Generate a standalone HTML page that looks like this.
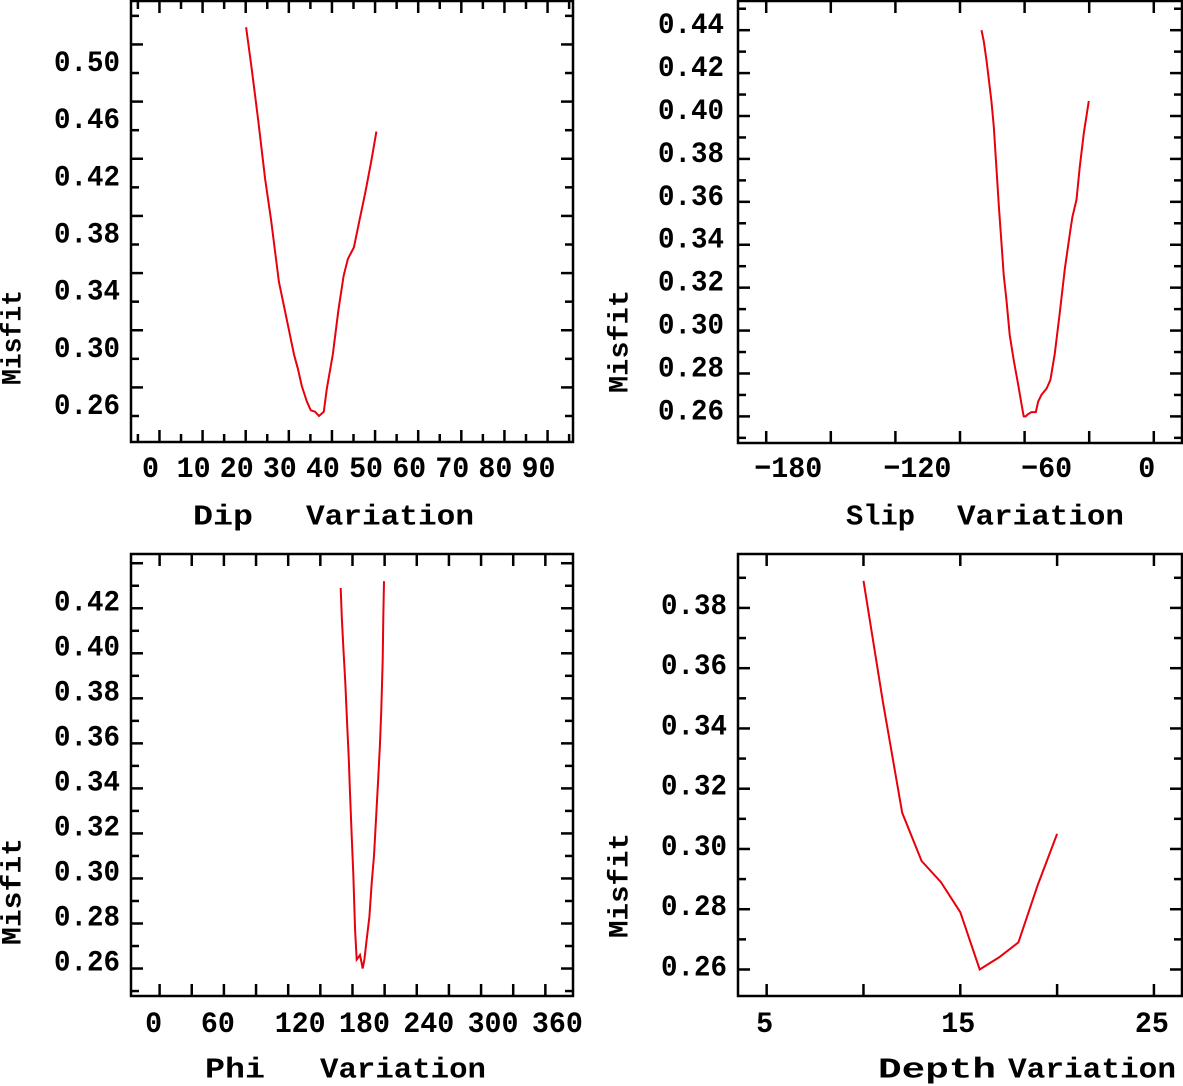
<!DOCTYPE html>
<html><head><meta charset="utf-8"><style>
html,body{margin:0;padding:0;background:#fff;}
svg{display:block;}
text{font-family:"Liberation Mono",monospace;font-weight:bold;fill:#000;}
</style></head>
<body>
<svg id="chart" width="1183" height="1086" viewBox="0 0 1183 1086" xmlns="http://www.w3.org/2000/svg"></svg>
<script>
// ---- data ----
const dipValues = [20.1,21.4,22.9,24.5,25.9,27.7,29.9,31.2,32.1,33.0,34.2,35.1,36.1,37.0,38.1,38.8,40.2,41.5,42.7,43.7,45.1,46.4,47.7,49.1,50.3];
const dipMisfit = [0.532,0.503,0.467,0.426,0.397,0.354,0.322,0.303,0.293,0.281,0.270,0.264,0.263,0.260,0.263,0.279,0.303,0.334,0.358,0.370,0.378,0.397,0.416,0.438,0.459];
const slipValues = [-80.0,-79.0,-77.7,-76.5,-75.4,-74.3,-73.1,-71.9,-70.8,-69.7,-68.4,-66.9,-65.0,-63.0,-61.5,-60.4,-59.5,-58.4,-56.8,-55.7,-54.8,-53.7,-52.2,-49.8,-48.0,-46.0,-43.7,-41.3,-39.0,-37.8,-35.9,-34.4,-32.5,-30.2];
const slipMisfit = [0.440,0.435,0.426,0.416,0.407,0.395,0.376,0.357,0.342,0.326,0.314,0.298,0.286,0.275,0.266,0.260,0.260,0.261,0.262,0.262,0.262,0.267,0.270,0.273,0.277,0.289,0.308,0.329,0.345,0.353,0.361,0.376,0.392,0.407];
const phiValues = [169.0,170.0,171.5,173.3,175.2,176.5,177.7,179.3,180.8,182.4,183.9,185.5,187.0,188.3,189.5,191.1,193.3,195.8,197.9,200.1,202.0,204.1,205.7,206.9,208.2,208.8,209.4];
const phiMisfit = [0.429,0.416,0.402,0.387,0.367,0.354,0.338,0.319,0.302,0.277,0.264,0.265,0.266,0.263,0.260,0.264,0.273,0.283,0.298,0.310,0.327,0.345,0.360,0.375,0.397,0.416,0.432];
const depthValues = [10,11,12,13,14,15,16,17,18,19,20];
const depthMisfit = [0.389,0.349,0.312,0.296,0.289,0.279,0.260,0.264,0.269,0.288,0.305];

const dipXTicks = [0,10,20,30,40,50,60,70,80,90];
const dipYTicks = [0.26,0.30,0.34,0.38,0.42,0.46,0.50];
const slipXTicks = [-180,-120,-60,0];
const slipYTicks = [0.26,0.28,0.30,0.32,0.34,0.36,0.38,0.40,0.42,0.44];
const phiXTicks = [0,60,120,180,240,300,360];
const phiYTicks = [0.26,0.28,0.30,0.32,0.34,0.36,0.38,0.40,0.42];
const depthXTicks = [5,15,25];
const depthYTicks = [0.26,0.28,0.30,0.32,0.34,0.36,0.38];

const NS = 'http://www.w3.org/2000/svg';
const svg = document.getElementById('chart');
function mk(tag, attrs, parent){
  const e = document.createElementNS(NS, tag);
  for (const k in attrs) e.setAttribute(k, attrs[k]);
  (parent||svg).appendChild(e);
  return e;
}

function panel(o){
  const g = mk('g', {});
  
  
  const L=o.box[0], T=o.box[1], R=o.box[2], B=o.box[3];
  const xs = v => L + (v - o.xmin) / (o.xmax - o.xmin) * (R - L);
  const ys = v => B - (v - o.ymin) / (o.ymax - o.ymin) * (B - T);
  const frame = mk('rect', {x:L, y:T, width:R-L, height:B-T, fill:'none', stroke:'#000', 'stroke-width':2.5}, g);
  
  
  const xt = mk('g', {stroke:'#000','stroke-width':2.5}, g);
  
  
  for (let v = Math.ceil(o.xmin/o.xminor)*o.xminor; v <= o.xmax; v += o.xminor){
    const x = xs(v);
    const isMaj = Math.abs(v/o.xmajor - Math.round(v/o.xmajor)) < 1e-6;
    const len = isMaj ? 12 : 8;
    mk('line',{x1:x,y1:B,x2:x,y2:B-len},xt);
    mk('line',{x1:x,y1:T,x2:x,y2:T+len},xt);
  }
  const yt = mk('g', {stroke:'#000','stroke-width':2.5}, g);
  
  
  for (let i = Math.ceil(o.ymin/o.yminor - 1e-6); i*o.yminor <= o.ymax; i++){
    const v = i*o.yminor;
    const y = ys(v);
    const isMaj = Math.abs(v/o.ymajor - Math.round(v/o.ymajor)) < 1e-6;
    const len = isMaj ? 12 : 8;
    mk('line',{x1:L,y1:y,x2:L+len,y2:y},yt);
    mk('line',{x1:R,y1:y,x2:R-len,y2:y},yt);
  }
  o.xticks.forEach(v => {
    const s = (v < 0 ? '\u2212' + Math.abs(v) : String(v));
    const t = mk('text',{x:xs(v)+o.xlabOff(v), y:o.xlabY, 'font-size':30, 'text-anchor':'middle', 'dominant-baseline':'central', textLength:s.length*17, lengthAdjust:'spacingAndGlyphs'}, g);
    t.textContent = s;
    
    
  });
  o.yticks.forEach(v => {
    const t = mk('text',{x:o.ylabX, y:ys(v)+o.ylabOff, 'font-size':30, 'text-anchor':'end', 'dominant-baseline':'central', textLength:66, lengthAdjust:'spacingAndGlyphs'}, g);
    t.textContent = v.toFixed(2);
    
    
  });
  o.titles.forEach(tt => {
    const t = mk('text',{x:tt[1], y:o.titleY, 'font-size':29, textLength:tt[2]-tt[1], lengthAdjust:'spacingAndGlyphs', 'dominant-baseline':'central'}, g);
    t.textContent = tt[0];
    
    
  });
  const m = o.misfit;
  const yl = mk('text',{x:0, y:0, 'font-size':28, textLength:m[2]-m[1], lengthAdjust:'spacingAndGlyphs', 'text-anchor':'middle', 'dominant-baseline':'central', transform:'translate('+m[0]+','+((m[1]+m[2])/2)+') rotate(-90)'}, g);
  yl.textContent = 'Misfit';
  
  
  const pts = o.xv.map((v,i) => xs(v).toFixed(1)+','+ys(o.yv[i]).toFixed(1)).join(' ');
  const line = mk('polyline',{points:pts, fill:'none', stroke:'#e8000b', 'stroke-width':2}, g);
  
  
}

panel({name:'dip-panel', box:[131,1,573,442], xmin:-6.6, xmax:95.9, ymin:0.2418, ymax:0.5504,
  xminor:5, xmajor:10, yminor:0.02, ymajor:0.04, xticks:dipXTicks, yticks:dipYTicks,
  xlabOff:v=>-9, xlabY:470, ylabX:120, ylabOff:-9, titleY:517,
  titles:[['Dip',193,253],['Variation',306,474]], misfit:[14,290,385], xv:dipValues, yv:dipMisfit});

panel({name:'slip-panel', box:[738,1,1182,443], xmin:-193.1, xmax:13.1, ymin:0.2476, ymax:0.4536,
  xminor:30, xmajor:30, yminor:0.01, ymajor:0.02, xticks:slipXTicks, yticks:slipYTicks,
  xlabOff:v=>(v<0?22:-7), xlabY:470, ylabX:724, ylabOff:-4, titleY:517,
  titles:[['Slip',846,915],['Variation',957,1124]], misfit:[621,290,393], xv:slipValues, yv:slipMisfit});

panel({name:'phi-panel', box:[131,554,573,996], xmin:-26.7, xmax:385.8, ymin:0.2478, ymax:0.4441,
  xminor:30, xmajor:30, yminor:0.01, ymajor:0.02, xticks:phiXTicks, yticks:phiYTicks,
  xlabOff:v=>(String(v).length>2?12:-6), xlabY:1025, ylabX:120, ylabOff:-5, titleY:1070,
  titles:[['Phi',205,265],['Variation',320,486]], misfit:[14,838,945], xv:phiValues, yv:phiMisfit});

panel({name:'depth-panel', box:[738,554,1182,996], xmin:3.52, xmax:26.45, ymin:0.2512, ymax:0.3979,
  xminor:5, xmajor:5, yminor:0.01, ymajor:0.02, xticks:depthXTicks, yticks:depthYTicks,
  xlabOff:v=>-2, xlabY:1025, ylabX:727, ylabOff:-1, titleY:1070,
  titles:[['Depth',878,996],['Variation',1008,1176]], misfit:[621,833,938], xv:depthValues, yv:depthMisfit});
</script>
</body></html>
